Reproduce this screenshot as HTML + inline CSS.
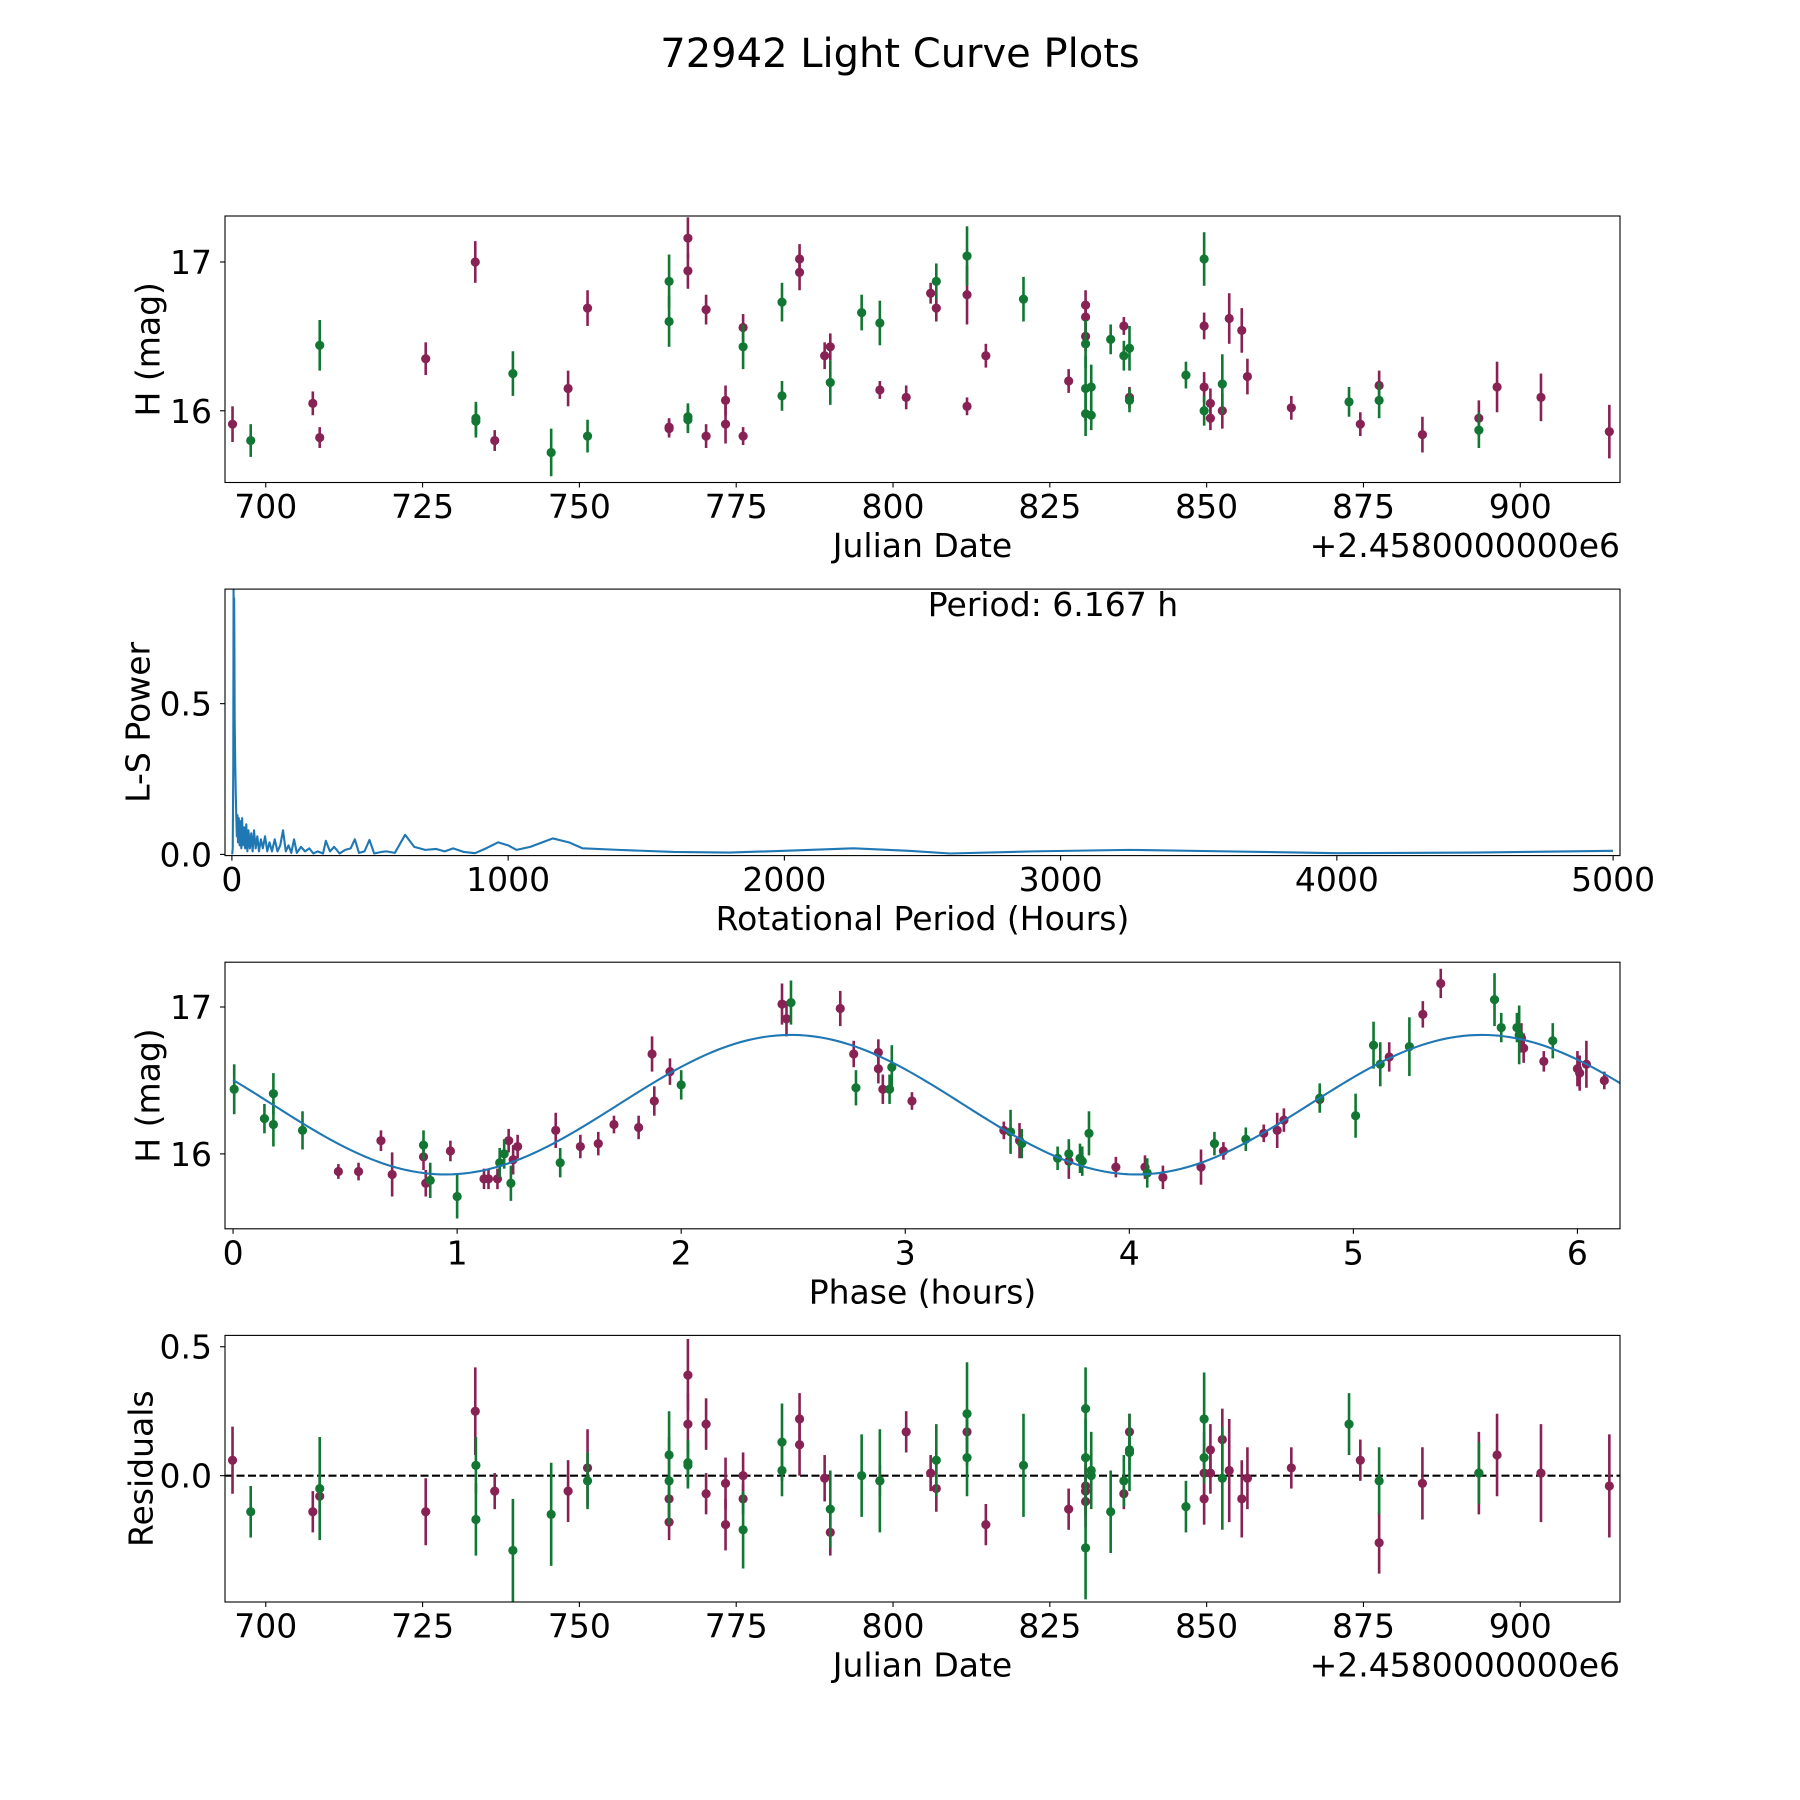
<!DOCTYPE html>
<html><head><meta charset="utf-8"><title>72942 Light Curve Plots</title>
<style>html,body{margin:0;padding:0;background:#fff}svg{display:block;font-family:"DejaVu Sans","Liberation Sans",sans-serif}</style>
</head><body>
<svg id="fig" width="1800" height="1800" viewBox="0 0 1800 1800" xmlns="http://www.w3.org/2000/svg">
<rect x="0" y="0" width="1800" height="1800" fill="#fff"/>
<text x="900" y="67" font-size="40" text-anchor="middle">72942 Light Curve Plots</text>
</svg>
<script>
// ---- Panel 1: light curve (JD vs H mag) ----
const lcJdRed=[694.7,707.5,708.6,725.5,733.4,736.5,748.2,751.3,764.3,764.3,767.3,767.3,770.2,770.2,773.3,773.3,776.1,776.1,785.1,785.1,789.1,790.0,797.9,802.1,806.0,806.9,811.8,811.8,814.8,828.0,830.7,830.7,830.7,836.8,837.7,849.6,849.6,850.6,850.6,852.5,853.6,855.6,856.5,863.5,874.5,877.5,884.4,893.4,896.3,903.3,914.2];
const lcMagRed=[15.91,16.05,15.82,16.35,17.00,15.80,16.15,16.69,15.89,15.88,17.16,16.94,16.68,15.83,16.07,15.91,16.56,15.83,17.02,16.93,16.37,16.43,16.14,16.09,16.79,16.69,16.78,16.03,16.37,16.20,16.71,16.63,16.50,16.57,16.09,16.57,16.16,16.05,15.95,16.00,16.62,16.54,16.23,16.02,15.91,16.17,15.84,15.95,16.16,16.09,15.86];
const lcErrRed=[.12,.08,.07,.11,.14,.07,.12,.12,.06,.06,.14,.12,.1,.08,.1,.13,.09,.06,.1,.12,.09,.09,.06,.08,.07,.09,.2,.06,.08,.08,.1,.1,.1,.06,.07,.09,.1,.1,.08,.12,.17,.15,.12,.08,.08,.1,.12,.12,.17,.16,.18];
const lcJdGreen=[697.6,708.6,733.5,733.5,739.4,745.5,751.3,764.3,764.3,767.3,767.3,776.1,782.3,782.3,790.0,795.0,797.9,806.9,811.8,820.8,830.7,830.7,830.7,831.6,831.6,834.7,836.8,837.7,837.7,846.7,849.6,849.6,852.5,872.7,877.5,893.4];
const lcMagGreen=[15.80,16.44,15.93,15.95,16.25,15.72,15.83,16.87,16.60,15.96,15.94,16.43,16.73,16.10,16.19,16.66,16.59,16.87,17.04,16.75,16.45,16.15,15.98,16.16,15.97,16.48,16.37,16.42,16.07,16.24,17.02,16.00,16.18,16.06,16.07,15.87];
const lcErrGreen=[.11,.17,.11,.11,.15,.16,.11,.18,.17,.09,.09,.15,.13,.1,.15,.12,.15,.12,.2,.15,.16,.22,.15,.15,.1,.1,.1,.15,.08,.09,.18,.1,.2,.1,.12,.12];
const jdTicks=[700,725,750,775,800,825,850,875,900];
const magTicks=[16,17];
// ---- Panel 2: periodogram ----
const lsPeriod=[1,3,5,6,7,8,9,10,12,14,16,18,20,22,25,28,31,34,37,40,44,48,52,56,60,65,70,75,80,86,92,98,105,112,120,128,136,145,155,165,175,185,195,205,215,225,235,250,265,280,295,310,330,340,355,370,390,410,430,445,460,480,498,515,540,560,590,627,660,700,740,770,801,840,880,920,964,1000,1030,1080,1162,1220,1270,1400,1600,1800,2000,2250,2450,2600,2900,3250,3600,4000,4500,5000];
const lsPower=[0.0,0.02,0.3,0.88,0.6,0.85,0.7,0.45,0.3,0.2,0.12,0.06,0.13,0.04,0.12,0.03,0.11,0.02,0.12,0.03,0.09,0.02,0.1,0.01,0.08,0.02,0.07,0.01,0.08,0.02,0.06,0.01,0.05,0.02,0.06,0.01,0.04,0.01,0.05,0.01,0.03,0.08,0.01,0.03,0.005,0.05,0.005,0.025,0.01,0.02,0.003,0.01,0.003,0.045,0.01,0.025,0.003,0.015,0.02,0.05,0.005,0.01,0.048,0.003,0.008,0.01,0.005,0.065,0.025,0.015,0.018,0.01,0.02,0.008,0.004,0.02,0.04,0.03,0.015,0.025,0.053,0.04,0.02,0.015,0.008,0.006,0.012,0.02,0.012,0.003,0.01,0.015,0.01,0.004,0.006,0.012];
const periodTicks=[0,1000,2000,3000,4000,5000];
const powerTicks=[0.0,0.5];
// ---- Panel 3: phased ----
const phRed=[0.47,0.56,0.66,0.71,0.85,0.86,0.97,1.12,1.14,1.18,1.23,1.25,1.27,1.44,1.55,1.63,1.70,1.81,1.87,1.88,1.95,2.45,2.47,2.71,2.77,2.88,2.88,2.90,3.03,3.44,3.51,3.73,3.94,4.07,4.15,4.32,4.42,4.60,4.66,4.69,4.85,5.16,5.31,5.39,5.75,5.76,5.85,6.00,6.01,6.04,6.12];
const phMagRed=[15.88,15.88,16.09,15.86,15.98,15.80,16.02,15.83,15.83,15.83,16.09,15.96,16.05,16.16,16.05,16.07,16.20,16.18,16.68,16.36,16.56,17.02,16.92,16.99,16.68,16.69,16.58,16.44,16.36,16.16,16.09,15.95,15.91,15.91,15.84,15.91,16.02,16.14,16.16,16.23,16.37,16.66,16.95,17.16,16.79,16.72,16.63,16.58,16.55,16.61,16.50];
const phErrRed=[.05,.06,.07,.15,.09,.09,.07,.07,.07,.07,.08,.1,.08,.12,.08,.08,.06,.08,.12,.1,.09,.14,.12,.12,.09,.09,.1,.1,.06,.06,.12,.12,.07,.08,.08,.12,.06,.06,.12,.08,.08,.1,.09,.1,.1,.1,.07,.12,.12,.16,.06];
const phGreen=[0.005,0.14,0.18,0.18,0.31,0.85,0.88,1.0,1.19,1.21,1.24,1.46,2.0,2.49,2.78,2.93,2.94,3.47,3.52,3.68,3.73,3.78,3.79,3.82,4.08,4.38,4.52,4.85,5.01,5.09,5.12,5.25,5.63,5.66,5.73,5.74,5.89];
const phMagGreen=[16.44,16.24,16.41,16.20,16.16,16.06,15.82,15.71,15.94,16.0,15.8,15.94,16.47,17.03,16.45,16.44,16.59,16.15,16.07,15.97,16.0,15.97,15.95,16.14,15.87,16.07,16.10,16.38,16.26,16.74,16.61,16.73,17.05,16.86,16.86,16.81,16.77];
const phErrGreen=[.17,.1,.14,.15,.13,.1,.12,.15,.1,.1,.12,.1,.1,.15,.12,.1,.15,.15,.1,.08,.1,.1,.1,.15,.1,.08,.08,.1,.15,.16,.15,.2,.18,.1,.1,.2,.12];
const modelParams=[16.335,0.475,3.0835,2.49]; // mean, amplitude, period (h), phase of maximum
const phaseTicks=[0,1,2,3,4,5,6];
// ---- Panel 4: residuals ----
const resJdRed=[694.7,707.5,708.6,725.5,733.4,736.5,748.2,751.3,764.3,764.3,767.3,767.3,770.2,770.2,773.3,773.3,776.1,776.1,785.1,785.1,789.1,790.0,797.9,802.1,806.0,806.9,811.8,814.8,828.0,830.7,830.7,830.7,836.8,837.7,849.6,849.6,850.6,850.6,852.5,853.6,855.6,856.5,863.5,874.5,877.5,884.4,893.4,896.3,903.3,914.2];
const resRed=[.06,-.14,-.08,-.14,.25,-.06,-.06,.03,-.09,-.18,.39,.20,.20,-.07,-.03,-.19,0,-.09,.22,.12,-.01,-.22,-.02,.17,.01,-.05,.17,-.19,-.13,-.04,-.06,-.10,-.07,.17,.01,-.09,.10,.01,.14,.02,-.09,-.01,.03,.06,-.26,-.03,.01,.08,.01,-.04];
const resErrRed=[.13,.08,.07,.13,.17,.07,.12,.15,.07,.07,.14,.12,.1,.08,.1,.1,.09,.06,.1,.12,.09,.09,.06,.08,.07,.09,.08,.08,.08,.1,.1,.1,.06,.07,.09,.1,.1,.08,.12,.2,.15,.12,.08,.08,.12,.14,.16,.16,.19,.2];
const resJdGreen=[697.6,708.6,733.5,733.5,739.4,745.5,751.3,764.3,764.3,767.3,767.3,776.1,782.3,782.3,790.0,795.0,797.9,806.9,811.8,811.8,820.8,830.7,830.7,830.7,831.6,831.6,834.7,836.8,837.7,837.7,846.7,849.6,849.6,852.5,872.7,877.5,893.4];
const resGreen=[-.14,-.05,.04,-.17,-.29,-.15,-.02,.08,-.02,.04,.05,-.21,.13,.02,-.13,0,-.02,.06,.24,.07,.04,.26,.07,-.28,.02,0,-.14,-.02,.09,.10,-.12,.22,.07,-.01,.20,-.02,.01];
const resErrGreen=[.1,.2,.11,.14,.2,.2,.11,.17,.17,.09,.09,.15,.15,.1,.15,.16,.2,.14,.2,.15,.2,.16,.15,.2,.15,.1,.16,.1,.15,.08,.1,.18,.1,.2,.12,.13,.12];
const resTicks=[0.0,0.5];

const RED='#882255', GREEN='#117733', BLUE='#1f77b4';
const svg=document.getElementById('fig');
const NS='http://www.w3.org/2000/svg';
function mk(tag,attrs,parent){const e=document.createElementNS(NS,tag);for(const k in attrs)e.setAttribute(k,attrs[k]);(parent||svg).appendChild(e);return e;}
const L=225,R=1620;
function panel(top,bottom,xmin,xmax,ymin,ymax,name){
  const g=mk('g',{});
  
  
  return {g,top,bottom,sx:v=>L+(v-xmin)/(xmax-xmin)*(R-L),sy:v=>bottom-(v-ymin)/(ymax-ymin)*(bottom-top)};
}
function frame(p,xt,xfmt,yt,yfmt,xlabel,ylabel,ylabx){
  const clip=mk('clipPath',{id:'c'+p.top},p.g);
  mk('rect',{x:L,y:p.top,width:R-L,height:p.bottom-p.top},clip);
  for(const v of xt){const x=p.sx(v);
    const t=mk('line',{x1:x,x2:x,y1:p.bottom,y2:p.bottom+5,stroke:'#000','stroke-width':1.1},p.g);
    
    
    const tl=mk('text',{x:x,y:p.bottom+35.5,'font-size':33,'text-anchor':'middle'},p.g);tl.textContent=xfmt(v);
    
    }
  for(const v of yt){const y=p.sy(v);
    const t=mk('line',{x1:L-5,x2:L,y1:y,y2:y,stroke:'#000','stroke-width':1.1},p.g);
    
    
    const tl=mk('text',{x:L-13,y:y+12,'font-size':33,'text-anchor':'end'},p.g);tl.textContent=yfmt(v);
    
    }
  const xl=mk('text',{x:(L+R)/2,y:p.bottom+74.5,'font-size':33,'text-anchor':'middle'},p.g);xl.textContent=xlabel;
  
  
  const cy=(p.top+p.bottom)/2;
  const yl=mk('text',{x:ylabx,y:cy,'font-size':33,'text-anchor':'middle','dominant-baseline':'central',transform:`rotate(-90 ${ylabx} ${cy})`},p.g);yl.textContent=ylabel;
  
  
}
function border(p){const b=mk('rect',{x:L,y:p.top,width:R-L,height:p.bottom-p.top,fill:'none',stroke:'#000','stroke-width':1.1},p.g);
  
  }
function errpts(p,xs,ys,es,color,name){
  const g=mk('g',{'clip-path':`url(#c${p.top})`},p.g);
  for(let i=0;i<xs.length;i++){const x=p.sx(xs[i]);
    const ln=mk('line',{x1:x,x2:x,y1:p.sy(ys[i]-es[i]),y2:p.sy(ys[i]+es[i]),stroke:color,'stroke-width':2.6},g);
    
    
    const c=mk('circle',{cx:x,cy:p.sy(ys[i]),r:4.6,fill:color},g);
    
    }
}
const f0=v=>String(v), f1=v=>v.toFixed(1);
// Panel 1
const p1=panel(216,482.5,693.5,915.9,15.518,17.309,'light-curve-panel');
frame(p1,jdTicks,f0,magTicks,f0,'Julian Date','H (mag)',148);
errpts(p1,lcJdRed,lcMagRed,lcErrRed,RED,'red-observation');
errpts(p1,lcJdGreen,lcMagGreen,lcErrGreen,GREEN,'green-observation');
border(p1);
let o1=mk('text',{x:R,y:p1.bottom+74.5,'font-size':33,'text-anchor':'end'},p1.g);o1.textContent='+2.4580000000e6';


// Panel 2
const p2=panel(589.1,855.6,-25,5025,-0.004,0.88,'periodogram-panel');
frame(p2,periodTicks,f0,powerTicks,f1,'Rotational Period (Hours)','L-S Power',138);
{const g=mk('g',{'clip-path':`url(#c${p2.top})`},p2.g);
 const d=lsPeriod.map((v,i)=>(i?'L':'M')+p2.sx(v).toFixed(2)+','+p2.sy(lsPower[i]).toFixed(2)).join(' ');
 const pl=mk('path',{d:d,fill:'none',stroke:BLUE,'stroke-width':2.1,'stroke-linejoin':'round'},g);
 
 }
border(p2);
let pt=mk('text',{x:1053,y:616,'font-size':33,'text-anchor':'middle'},p2.g);pt.textContent='Period: 6.167 h';


// Panel 3
const p3=panel(962.2,1228.8,-0.036,6.19,15.49,17.305,'phase-panel');
frame(p3,phaseTicks,f0,magTicks,f0,'Phase (hours)','H (mag)',148);
errpts(p3,phRed,phMagRed,phErrRed,RED,'red-phased');
errpts(p3,phGreen,phMagGreen,phErrGreen,GREEN,'green-phased');
{const g=mk('g',{'clip-path':`url(#c${p3.top})`},p3.g);
 const [m,a,per,pk]=modelParams;const pts=[];
 for(let i=0;i<=240;i++){const ph=i/240*6.19;pts.push((i?'L':'M')+p3.sx(ph).toFixed(2)+','+p3.sy(m+a*Math.cos(2*Math.PI*(ph-pk)/per)).toFixed(2));}
 const ml=mk('path',{d:pts.join(' '),fill:'none',stroke:BLUE,'stroke-width':2.1},g);
 
 }
border(p3);
// Panel 4
const p4=panel(1335.4,1602,693.5,915.9,-0.49,0.544,'residuals-panel');
frame(p4,jdTicks,f0,resTicks,f1,'Julian Date','Residuals',141);
{const zl=mk('line',{x1:L,x2:R,y1:p4.sy(0),y2:p4.sy(0),stroke:'#000','stroke-width':2.1,'stroke-dasharray':'8,3.5'},p4.g);
 
 }
errpts(p4,resJdRed,resRed,resErrRed,RED,'red-residual');
errpts(p4,resJdGreen,resGreen,resErrGreen,GREEN,'green-residual');
border(p4);
let o4=mk('text',{x:R,y:p4.bottom+74.5,'font-size':33,'text-anchor':'end'},p4.g);o4.textContent='+2.4580000000e6';


</script>
</body></html>
